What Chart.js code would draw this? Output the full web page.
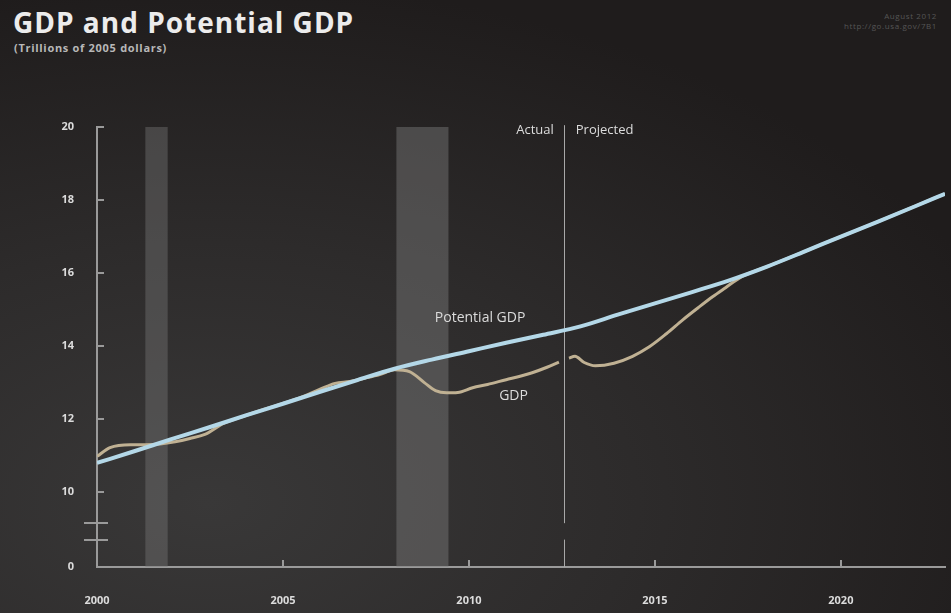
<!DOCTYPE html>
<html>
<head>
<meta charset="utf-8">
<script src="https://cdn.jsdelivr.net/npm/chart.js@4.4.0/dist/chart.umd.min.js"></script>
<style>
html, body { margin: 0; padding: 0; }
body {
    width: 951px; height: 613px; overflow: hidden; position: relative;
    background: radial-gradient(ellipse 90% 85% at 22% 82%, #393838 0%, #2d2b2b 50%, #1f1c1c 100%);
    font-family: "Open Sans", sans-serif;
}
#title { position: absolute; left: 13px; top: 3px; color: #ececec; font-weight: 700; font-size: 28px; letter-spacing: 1px; }
#subtitle { position: absolute; left: 14px; top: 40px; color: #b8b8b8; font-size: 11px; font-weight: 700; letter-spacing: 0.7px; }
#note { position: absolute; right: 14px; top: 11px; color: #555; font-size: 8px; text-align: right; line-height: 10px; letter-spacing: 0.6px; }
#wrap { position: absolute; left: 0; top: 0; width: 951px; height: 613px; }
</style>
</head>
<body>
<div id="title">GDP and Potential GDP</div>
<div id="subtitle">(Trillions of 2005 dollars)</div>
<div id="note">August 2012<br>http://go.usa.gov/7B1</div>
<div id="wrap"><canvas id="chart"></canvas></div>
<script>
// data
const potentialYears = [2000, 2001, 2002, 2003, 2004, 2005, 2006, 2007, 2008, 2009, 2010, 2011,
    2012, 2013, 2014, 2015, 2016, 2017, 2018, 2019, 2020, 2021, 2022, 2022.8];
const potentialGdp = [10.80, 11.12, 11.45, 11.77, 12.10, 12.42, 12.75, 13.07, 13.38, 13.63, 13.86, 14.09,
    14.31, 14.54, 14.86, 15.17, 15.48, 15.80, 16.17, 16.58, 17.00, 17.41, 17.83, 18.17];

const gdpYears = [2000.0, 2000.35, 2000.9, 2001.3, 2001.7, 2002.1, 2002.5, 2002.9, 2003.4, 2004.0,
    2004.5, 2005.0, 2005.5, 2006.0, 2006.4, 2006.8, 2007.2, 2007.6, 2008.0, 2008.4, 2008.8, 2009.1,
    2009.4, 2009.7, 2010.1, 2010.5, 2011.0, 2011.4, 2011.7, 2012.1, 2012.42, 2012.55, 2012.69, 2012.85,
    2013.1, 2013.4, 2013.9, 2014.4, 2014.85, 2015.3, 2015.75, 2016.2, 2016.55, 2016.9, 2017.3, 2017.7,
    2018, 2019, 2020, 2021, 2022, 2022.8];
const gdpValues = [10.98, 11.22, 11.30, 11.30, 11.32, 11.38, 11.47, 11.58, 11.88, 12.10,
    12.27, 12.43, 12.60, 12.82, 12.98, 13.03, 13.12, 13.22, 13.35, 13.30, 13.00, 12.78,
    12.72, 12.73, 12.86, 12.95, 13.08, 13.18, 13.27, 13.42, 13.56, null, 13.67, 13.72,
    13.55, 13.46, 13.53, 13.72, 13.98, 14.33, 14.72, 15.08, 15.35, 15.60, 15.88, 16.06,
    16.17, 16.58, 17.00, 17.41, 17.83, 18.17];

const recessionStart = [2001.3, 2008.05];
const recessionEnd = [2001.9, 2009.45];
const splitYear = 2012.55;

const xTickValues = [2000, 2005, 2010, 2015, 2020];
const yTickValues = [10, 12, 14, 16, 18, 20];
const yBottom = 7.95;          // axis is broken, bottom is labelled 0
const breakValues = [9.15, 8.7];

function toPoints(xs, ys) {
    return xs.map((x, i) => ({ x: x, y: ys[i] }));
}

const axisColor = '#9a9a9a';
const textColor = '#dcdcdc';

// recession bands behind the lines
const bandsPlugin = {
    id: 'bands',
    beforeDatasetsDraw(chart) {
        const { ctx, scales: { x, y } } = chart;
        ctx.save();
        recessionStart.forEach((s, i) => {
            const x0 = x.getPixelForValue(s);
            const x1 = x.getPixelForValue(recessionEnd[i]);
            const y0 = y.getPixelForValue(20);
            const y1 = y.getPixelForValue(yBottom);
            ctx.fillStyle = i === 0 ? 'rgba(120,120,120,0.42)' : 'rgba(125,125,125,0.45)';
            ctx.fillRect(x0, y0, x1 - x0, y1 - y0);
        });
        // actual / projected divider, with a gap at the axis break
        const sx = Math.round(x.getPixelForValue(splitYear)) + 0.5;
        ctx.strokeStyle = '#a8a8a8';
        ctx.lineWidth = 1;
        ctx.beginPath();
        ctx.moveTo(sx, y.getPixelForValue(20.05));
        ctx.lineTo(sx, y.getPixelForValue(breakValues[0]));
        ctx.moveTo(sx, y.getPixelForValue(breakValues[1]));
        ctx.lineTo(sx, y.getPixelForValue(yBottom));
        ctx.stroke();
        ctx.restore();
    },
    afterDraw(chart) {
        const { ctx, scales: { x, y } } = chart;
        const ax = x.getPixelForValue(2000);
        const ay = y.getPixelForValue(yBottom);
        ctx.save();
        ctx.strokeStyle = axisColor;
        ctx.lineWidth = 2;
        ctx.beginPath();
        yTickValues.forEach(v => {
            const py = Math.round(y.getPixelForValue(v));
            ctx.moveTo(ax, py);
            ctx.lineTo(ax + 7, py);
        });
        xTickValues.slice(1).forEach(v => {
            const px = Math.round(x.getPixelForValue(v));
            ctx.moveTo(px, ay);
            ctx.lineTo(px, ay - 7);
        });
        breakValues.forEach(v => {
            const py = Math.round(y.getPixelForValue(v));
            ctx.moveTo(ax - 13, py);
            ctx.lineTo(ax + 11, py);
        });
        ctx.stroke();

        ctx.fillStyle = textColor;
        ctx.font = '13px "Open Sans", sans-serif';
        ctx.textBaseline = 'middle';
        const sx = x.getPixelForValue(splitYear);
        ctx.textAlign = 'right';
        ctx.fillText('Actual', sx - 10, y.getPixelForValue(19.92));
        ctx.textAlign = 'left';
        ctx.fillText('Projected', sx + 12, y.getPixelForValue(19.92));
        ctx.textAlign = 'center';
        ctx.font = '14px "Open Sans", sans-serif';
        ctx.fillText('Potential GDP', x.getPixelForValue(2010.3), y.getPixelForValue(14.77));
        ctx.fillText('GDP', x.getPixelForValue(2011.2), y.getPixelForValue(12.63));
        ctx.restore();
    }
};

new Chart(document.getElementById('chart'), {
    type: 'line',
    data: {
        datasets: [
            {
                label: 'Potential GDP',
                data: toPoints(potentialYears, potentialGdp),
                borderColor: '#b4d8e8',
                borderWidth: 4,
                pointRadius: 0,
                cubicInterpolationMode: 'monotone',
            },
            {
                label: 'GDP',
                data: toPoints(gdpYears, gdpValues),
                borderColor: '#c0b193',
                borderWidth: 3,
                pointRadius: 0,
                spanGaps: false,
                cubicInterpolationMode: 'monotone',
            },
        ]
    },
    options: {
        responsive: true,
        maintainAspectRatio: false,
        animation: false,
        layout: { padding: { top: 127, right: 6, left: 0, bottom: 0 } },
        plugins: {
            legend: { display: false },
            tooltip: { enabled: false },
        },
        scales: {
            x: {
                type: 'linear',
                min: 2000,
                max: 2022.8,
                grid: { display: false },
                border: { display: true, color: axisColor, width: 2 },
                afterBuildTicks: scale => { scale.ticks = xTickValues.map(v => ({ value: v })); },
                afterFit: scale => { scale.height = 46; },
                ticks: {
                    color: textColor,
                    padding: 19,
                    font: { family: '"Open Sans", sans-serif', size: 11, weight: 'bold' },
                    callback: v => String(v),
                },
            },
            y: {
                type: 'linear',
                min: yBottom,
                max: 20,
                grid: { display: false },
                border: { display: true, color: axisColor, width: 2 },
                afterBuildTicks: scale => { scale.ticks = [yBottom].concat(yTickValues).map(v => ({ value: v })); },
                afterFit: scale => { scale.width = 97; },
                ticks: {
                    color: textColor,
                    padding: 15,
                    font: { family: '"Open Sans", sans-serif', size: 11, weight: 'bold' },
                    callback: v => (v < 9 ? '0' : String(v)),
                },
            },
        }
    },
    plugins: [bandsPlugin]
});
</script>
</body>
</html>
